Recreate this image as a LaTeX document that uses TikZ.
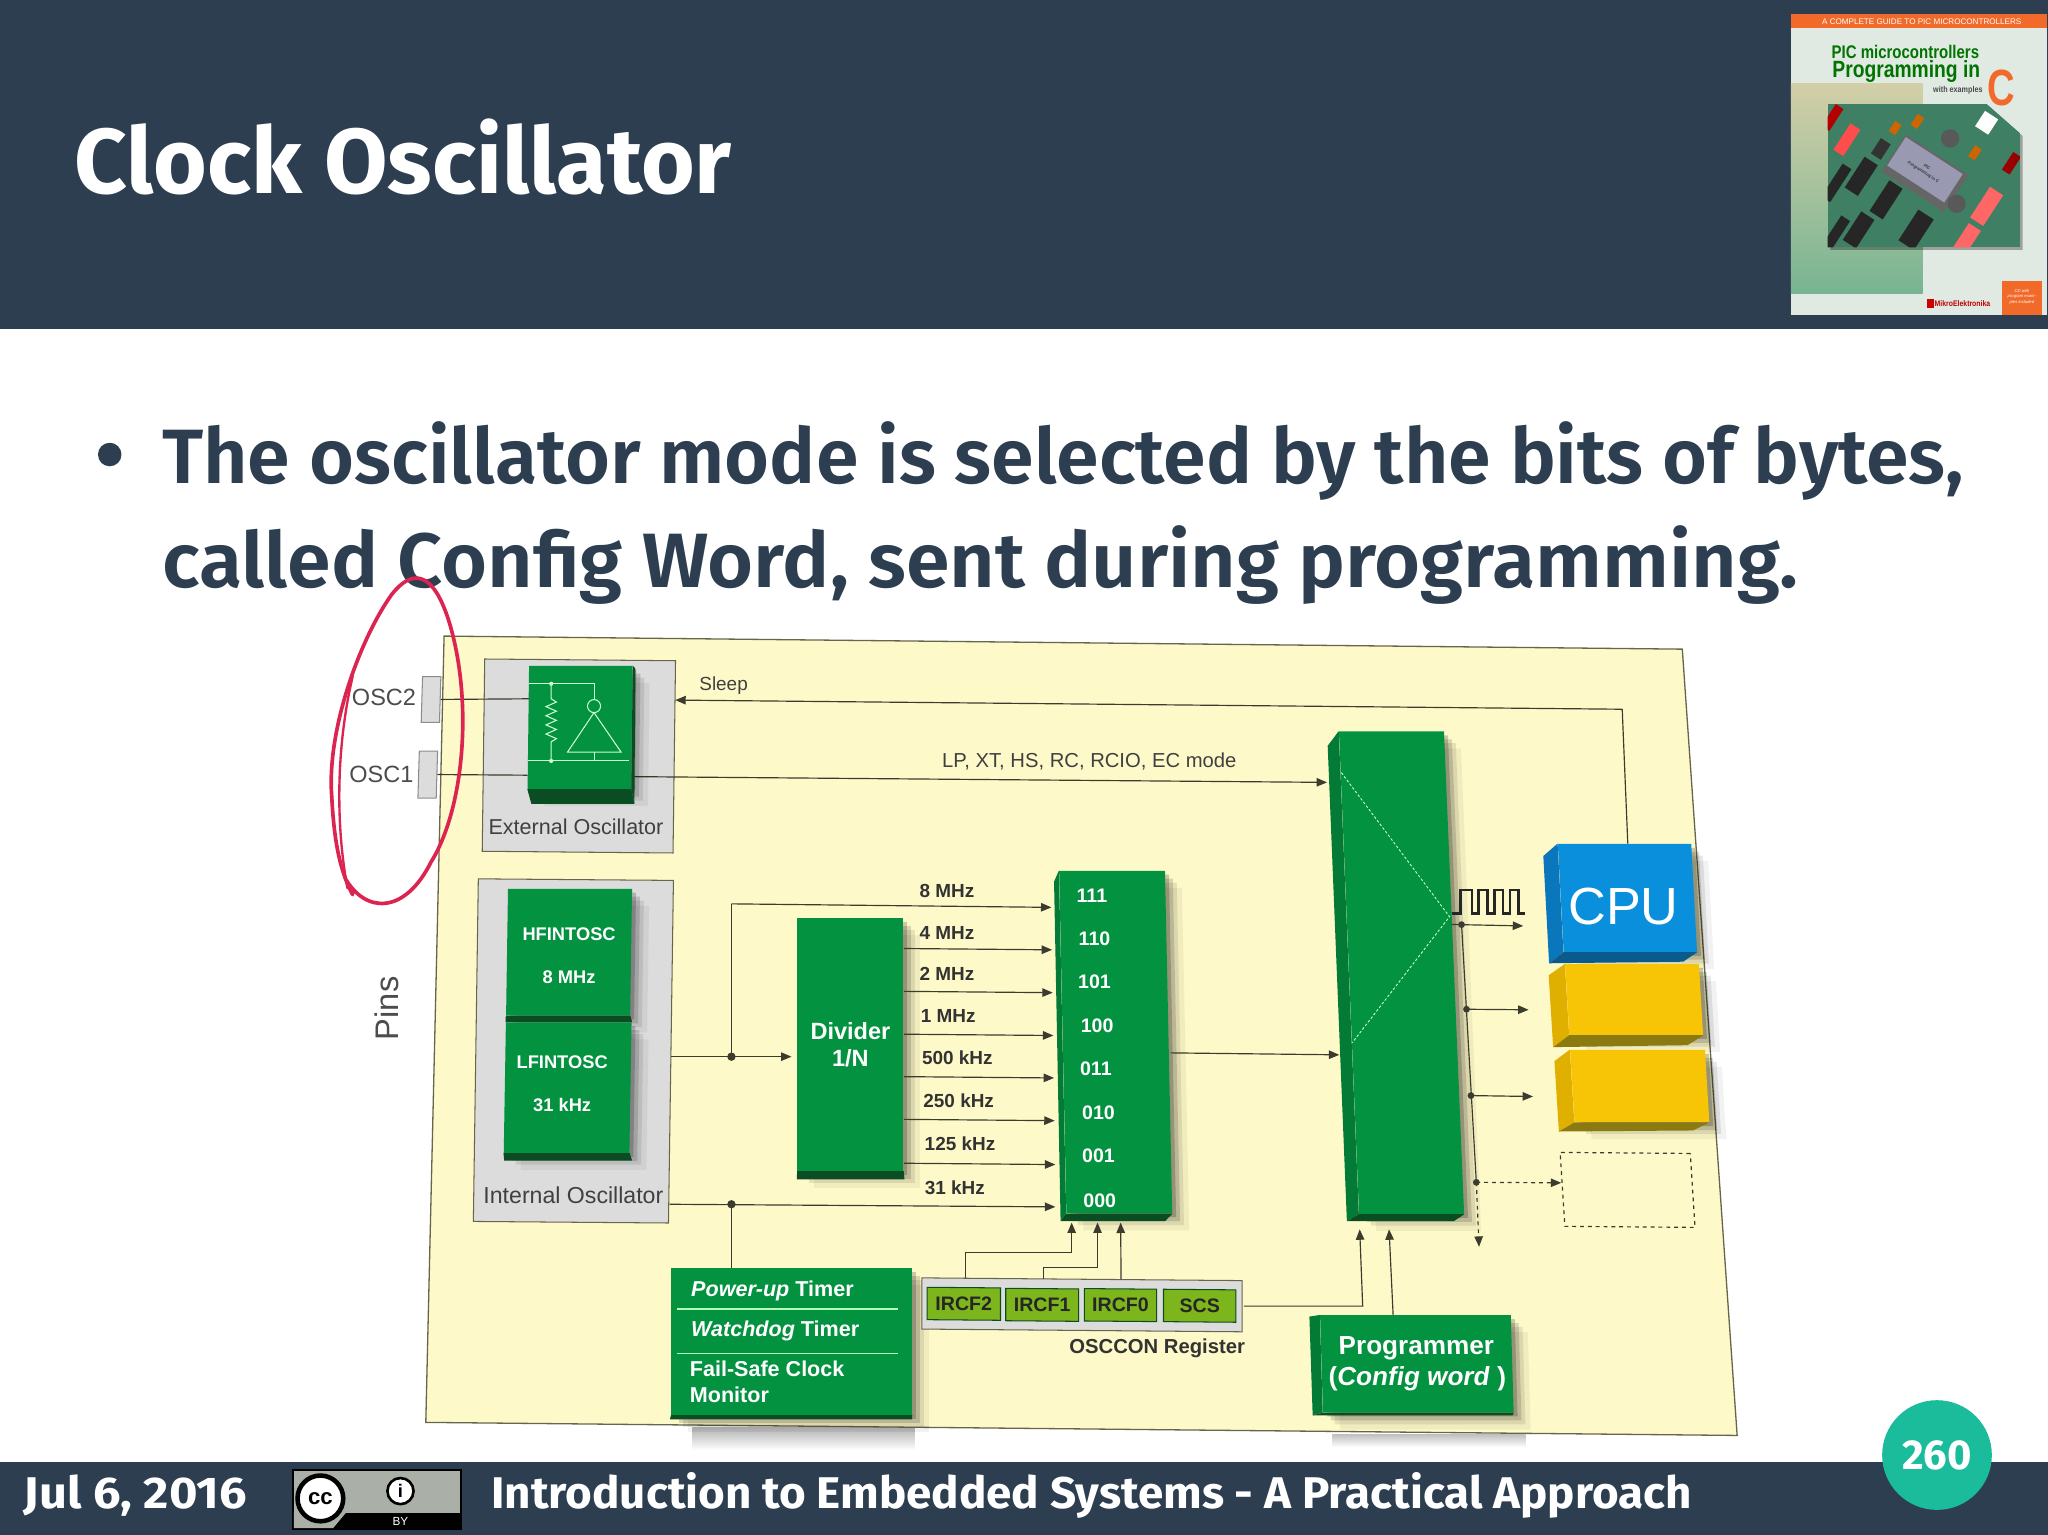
\documentclass[tikz,border=0pt]{standalone}
\usepackage{fontspec}
\setmainfont{Fira Sans}
\newfontfamily\semib{Fira Sans SemiBold}
\newfontfamily\diag{Liberation Sans}
\usetikzlibrary{arrows.meta,shadows}
\definecolor{navy}{HTML}{2C3E50}
\definecolor{tealc}{HTML}{1ABC9C}
\definecolor{panelc}{HTML}{FEF9C9}
\definecolor{panelb}{HTML}{66664C}
\definecolor{greybox}{HTML}{DCDCDC}
\definecolor{boxgreen}{HTML}{03923F}
\definecolor{sidegreen}{HTML}{037A35}
\definecolor{lowgreen}{HTML}{0B4D22}
\definecolor{cellgreen}{HTML}{7DB61C}
\definecolor{cpublue}{HTML}{0A8FDC}
\definecolor{cpuside}{HTML}{0A76BC}
\definecolor{cpulow}{HTML}{0A5A8C}
\definecolor{yelbox}{HTML}{F7C505}
\definecolor{yelside}{HTML}{E0B000}
\definecolor{yellow low}{HTML}{8A7A10}
\definecolor{linec}{HTML}{3B3B2E}
\definecolor{redpen}{HTML}{DC2451}
\definecolor{bookor}{HTML}{F26A2A}
\definecolor{bookbg}{HTML}{E0E9E2}
\definecolor{booktan}{HTML}{D3CFA8}
\definecolor{bookleaf}{HTML}{78B492}
\definecolor{bookpcb}{HTML}{3F7F63}
\definecolor{badgegrey}{HTML}{AAB0A8}
\tikzset{
softshadow/.style={
general shadow={shadow xshift=3pt,shadow yshift=-3pt,fill=black,opacity=.2},
general shadow={shadow xshift=6pt,shadow yshift=-6pt,fill=black,opacity=.14},
general shadow={shadow xshift=9pt,shadow yshift=-9pt,fill=black,opacity=.09},
general shadow={shadow xshift=13pt,shadow yshift=-13pt,fill=black,opacity=.05}},
gbox/.style={fill=boxgreen,inner sep=0pt,text=white,align=center,softshadow},
greyb/.style={fill=greybox,draw=panelb,line width=.8pt,inner sep=0pt},
ybox/.style={fill=yelbox,inner sep=0pt,softshadow},
cell/.style={fill=cellgreen,draw=lowgreen,line width=.8pt,inner sep=0pt,minimum height=24.8pt,yslant=-.0085,font=\diag\bfseries\fontsize{15}{18}\selectfont,text=black!85},
conn/.style={draw=linec,line width=.9pt},
flow/.style={conn,-{Stealth[length=8pt,width=6.5pt,inset=0pt]}},
txt/.style={inner sep=0pt,text=black!75,font=\diag\fontsize{17}{20}\selectfont},
rate/.style={inner sep=0pt,text=black!80,font=\diag\bfseries\fontsize{14.5}{17}\selectfont},
code/.style={inner sep=0pt,text=white,font=\diag\bfseries\fontsize{15}{18}\selectfont},
foot/.style={inner sep=0pt,anchor=base west,text=white,font=\bfseries\fontsize{34}{36}\selectfont},
bodyline/.style={inner sep=0pt,anchor=base west,text=navy,font=\semib\fontsize{59}{62}\selectfont}
}
\newcommand{\pcbpart}[5]{\fill[#5,rotate around={-33:(#1,#2)}] (#1-#3/2,#2-#4/2) rectangle (#1+#3/2,#2+#4/2);}
\begin{document}
\begin{tikzpicture}[x=1pt,y=-1pt]
\useasboundingbox (0,0) rectangle (1568,1175.2);
\fill[white] (0,0) rectangle (1568,1175.2);
% slide bands
\fill[navy] (0,0) rectangle (1568,252);
\fill[navy] (0,1119) rectangle (1568,1175.2);
\node[inner sep=0pt,anchor=base west,text=white,font=\bfseries\fontsize{70.5}{74}\selectfont] (slidetitle) at (57,148) {Clock Oscillator};
\fill[navy] (84,348) circle(9pt);
\node[bodyline] (lineone) at (124,370) {The oscillator mode is selected by the bits of bytes,};
\node[bodyline,xscale=1.024] (linetwo) at (124,450) {called Config Word, sent during programming.};
% book cover
\fill[bookbg] (1371.2,10.7) rectangle (1567,241.2);
\shade[top color=booktan,bottom color=bookleaf] (1371.2,63.8) rectangle (1472,224.6);
\fill[bookor] (1371.2,10.7) rectangle (1567,21.7);
\node[inner sep=0pt,text=white,font=\diag\fontsize{6.2}{7}\selectfont] (bookhead) at (1471.3,17) {A COMPLETE GUIDE TO PIC MICROCONTROLLERS};
\node[inner sep=0pt,xscale=.82,text=green!45!black,font=\diag\bfseries\fontsize{14}{16}\selectfont] (booka) at (1458.8,39.6) {PIC microcontrollers};
\node[inner sep=0pt,xscale=.82,text=green!45!black,font=\diag\bfseries\fontsize{18}{20}\selectfont] (bookb) at (1459.5,55) {Programming in};
\node[inner sep=0pt,xscale=.85,text=black!70,font=\diag\bfseries\fontsize{6.5}{8}\selectfont] (bookc) at (1499,69.4) {with examples};
\node[inner sep=0pt,xscale=.75,text=bookor,font=\diag\bfseries\fontsize{39}{40}\selectfont] (bookd) at (1532.5,67) {C};
\fill[black,opacity=.3] (1401.3,82) -- (1523,82) -- (1548.5,104) -- (1548.5,191.4) -- (1401.3,191.4) -- cycle;
\begin{scope}
\clip (1399.3,79.6) -- (1521,79.6) -- (1546.5,102) -- (1546.5,189.4) -- (1399.3,189.4) -- cycle;
\fill[bookpcb] (1399.3,79.6) rectangle (1546.5,189.4);
\pcbpart{1414}{107}{9}{24}{red!70!white}
\pcbpart{1403}{90}{7}{20}{red!70!black}
\pcbpart{1425}{135}{12}{28}{black!85}
\pcbpart{1444}{153}{12}{28}{black!85}
\pcbpart{1467}{176}{14}{28}{black!85}
\pcbpart{1423}{176}{12}{26}{black!85}
\pcbpart{1406}{140}{8}{30}{black!85}
\pcbpart{1406}{178}{8}{26}{black!85}
\pcbpart{1440}{114}{9}{14}{black!80}
\pcbpart{1521}{158}{12}{28}{red!60!white}
\pcbpart{1506}{183}{11}{22}{red!60!white}
\pcbpart{1521}{94}{12}{14}{white}
\pcbpart{1468}{93}{6}{10}{orange!80!black}
\pcbpart{1451}{98}{6}{9}{orange!80!black}
\pcbpart{1512}{117}{6}{10}{orange!80!black}
\pcbpart{1540}{125}{7}{16}{red!60!black}
\pcbpart{1473.8}{132.7}{57}{34}{black!60}
\pcbpart{1473.8}{130}{52}{26}{blue!25!black!40!white}
\fill[black!65] (1493,106) circle(7pt);
\fill[black!65] (1498,156) circle(7pt);
\end{scope}
\node[inner sep=0pt,rotate=-33,align=center,text=black!80,font=\diag\bfseries\fontsize{3.2}{5}\selectfont] (booklcd) at (1473.8,130) {PIC\\Programming in C};
\fill[red!80!black] (1475,228.8) rectangle (1481,236);
\node[inner sep=0pt,xscale=.85,text=red!75!black,font=\diag\bfseries\fontsize{6.2}{7}\selectfont] (booklogo) at (1502.5,232.4) {MikroElektronika};
\fill[bookor] (1532.5,214.9) rectangle (1563.6,241.2);
\node[inner sep=0pt,align=center,text=white,font=\diag\itshape\fontsize{3.2}{4.2}\selectfont] (bookcd) at (1548,227) {CD with\\program exam-\\ples included};
% diagram sheet
\shade[top color=black!30,bottom color=white] (530,1093) rectangle (700,1110);
\shade[top color=black!25,bottom color=white] (1020,1098) rectangle (1168,1108);
\draw[fill=panelc,draw=panelb,line width=1pt] (340,487) -- (1288,497) -- (1330,1099) -- (326,1089) -- cycle;
% pins
\node[fill=greybox,draw=black!45,line width=.8pt,inner sep=0pt,minimum width=14pt,minimum height=35pt,xslant=.03] (pintwo) at (330,535.5) {};
\node[fill=greybox,draw=black!45,line width=.8pt,inner sep=0pt,minimum width=14pt,minimum height=36pt,xslant=.03] (pinone) at (327.5,593) {};
\node[txt,text=black!70,font=\diag\fontsize{18}{20}\selectfont] (oscb) at (294,534) {OSC2};
\node[txt,text=black!70,font=\diag\fontsize{18}{20}\selectfont] (osca) at (292,593) {OSC1};
\node[txt,rotate=90,text=black!70,font=\diag\fontsize{25}{28}\selectfont] (pinslbl) at (296,772) {Pins};
% oscillator groups
\node[greyb,minimum width=146.1pt,minimum height=147.2pt,xslant=.0129,yslant=-.009] (extbox) at (443.2,578.8) {};
\node[greyb,minimum width=149.4pt,minimum height=262.3pt,xslant=.0145,yslant=-.008] (intbox) at (439,804.6) {};
\node[txt,font=\diag\fontsize{16.5}{20}\selectfont] (extlbl) at (441,633) {External Oscillator};
\node[txt,font=\diag\fontsize{17.7}{20}\selectfont] (intlbl) at (439,915) {Internal Oscillator};
% connectors
\coordinate (sleepcorner) at (1242,543);
\coordinate (sleepend) at (517,536);
\coordinate (muxmode) at (1016,599);
\coordinate (extleftb) at (405,535);
\coordinate (extlefta) at (404,593.5);
\coordinate (extright) at (484.5,594.6);
\coordinate (intout) at (514,809);
\coordinate (divin) at (606,809);
\coordinate (splita) at (560,809);
\coordinate (splitcorner) at (560,692);
\coordinate (regeight) at (805,694.7);
\coordinate (intlow) at (512.6,922);
\coordinate (splitb) at (560,922);
\coordinate (regthirtyone) at (808,924);
\draw[flow] (intout) -- (divin);
\draw[conn] (splita) -- (splitcorner);
\draw[flow] (splitcorner) -- (regeight);
\draw[flow] (intlow) -- (regthirtyone);
\draw[conn] (splitb) -- (560,971);
\draw[conn] (pintwo.east) -- (extleftb);
\draw[conn] (pinone.east) -- (extlefta);
\draw[flow] (extright) -- (muxmode);
\fill[linec] (splita) circle(3.2pt);
\fill[linec] (splitb) circle(3.2pt);
\node[txt,font=\diag\fontsize{14.5}{17}\selectfont] (sleeplbl) at (554,525) {Sleep};
\node[txt,font=\diag\fontsize{15.5}{18}\selectfont] (modelbl) at (834,583) {LP, XT, HS, RC, RCIO, EC mode};
% external oscillator
\node[gbox,minimum width=79.2pt,minimum height=94.2pt,xslant=.012] (extosc) at (444.1,556.9) {};
\fill[lowgreen] (extosc.south west) -- (406.8,615.4) -- (485.7,615.4) -- (extosc.south east) -- cycle;
\fill[lowgreen] (extosc.north east) -- (486.5,512) -- (485.7,615.4) -- (extosc.south east) -- cycle;
\draw[white!80!green,line width=.8pt] (405,523.5) -- (455.2,523.5) -- (455.2,535.5);
\draw[white!80!green,line width=.8pt] (454.8,540.6) circle(5pt);
\draw[white!80!green,line width=.8pt] (454.8,545.6) -- (434.5,575.8) -- (475.5,575.8) -- cycle;
\draw[white!80!green,line width=.8pt] (454.8,575.8) -- (454.8,582.6);
\draw[white!80!green,line width=.8pt] (404,582.6) -- (481.8,582.6);
\draw[white!80!green,line width=.8pt] (422,523.5) -- (422,535) -- (426,537.5) -- (418,541) -- (426,544.5) -- (418,548) -- (426,551.5) -- (418,555) -- (426,558.5) -- (418,562) -- (426,565.5) -- (422,568) -- (422,582.6);
\fill[white!80!green] (422,523.5) circle(1.6pt);
\fill[white!80!green] (422,582.6) circle(1.6pt);
% internal oscillator
\node[gbox,minimum width=95pt,minimum height=97pt,xslant=.015] (hfosc) at (435.7,729) {};
\node[inner sep=0pt,align=center,text=white,font=\diag\bfseries\fontsize{14}{32.8}\selectfont] (hfoscin) at (435.7,732) {HFINTOSC\\8 MHz};
\node[gbox,minimum width=96.2pt,minimum height=100pt,xslant=.0165] (lfosc) at (434.6,832.7) {};
\node[inner sep=0pt,align=center,text=white,font=\diag\bfseries\fontsize{14}{32.8}\selectfont] (lfoscin) at (430.4,829.5) {LFINTOSC\\31 kHz};
\fill[lowgreen] (hfosc.south west) -- (387,782.6) -- (484,782.6) -- (hfosc.south east) -- cycle;
\fill[lowgreen] (lfosc.south west) -- (386,888.5) -- (484,888.5) -- (lfosc.south east) -- cycle;
% divider
\node[gbox,minimum width=81.2pt,minimum height=193.4pt,font=\diag\bfseries\fontsize{18}{21}\selectfont] (divider) at (651.1,799.7) {Divider\\1/N};
\fill[lowgreen] (divider.south west) -- (610,903) -- (692.5,903) -- (divider.south east) -- cycle;
\coordinate (outb) at (692,726.2);
\coordinate (outc) at (692,759);
\coordinate (outd) at (692,791.8);
\coordinate (oute) at (692,824.3);
\coordinate (outf) at (692,857);
\coordinate (outg) at (692,890.6);
\coordinate (regb) at (805.5,727.2);
\coordinate (regc) at (806,760);
\coordinate (regd) at (806.5,792.8);
\coordinate (rege) at (807,825.3);
\coordinate (regf) at (807.5,858);
\coordinate (regg) at (808,891.6);
\draw[flow] (outb) -- (regb);
\draw[flow] (outc) -- (regc);
\draw[flow] (outd) -- (regd);
\draw[flow] (oute) -- (rege);
\draw[flow] (outf) -- (regf);
\draw[flow] (outg) -- (regg);
\node[rate] (rateeight) at (725,682) {8 MHz};
\node[rate] (ratefour) at (725,714) {4 MHz};
\node[rate] (ratetwo) at (725,746) {2 MHz};
\node[rate] (rateone) at (726,778) {1 MHz};
\node[rate] (ratefive) at (733,810) {500 kHz};
\node[rate] (ratequarter) at (734,843) {250 kHz};
\node[rate] (rateeighth) at (735,876) {125 kHz};
\node[rate] (ratelow) at (731,909) {31 kHz};
% selector
\node[gbox,minimum width=81pt,minimum height=262.2pt,xslant=-.0212] (selector) at (854.2,797.8) {};
\fill[sidegreen] (selector.north west) -- (807,675) -- (812,935) -- (selector.south west) -- cycle;
\fill[lowgreen] (selector.south west) -- (812,935) -- (892,935) -- (selector.south east) -- cycle;
\node[code] (sela) at (836,686) {111};
\node[code] (selb) at (838,719) {110};
\node[code] (selc) at (838,752) {101};
\node[code] (seld) at (840,785) {100};
\node[code] (sele) at (839,818) {011};
\node[code] (self) at (841,852) {010};
\node[code] (selg) at (841,885) {001};
\node[code] (selh) at (842,919) {000};
% clock mux
\node[gbox,minimum width=80.4pt,minimum height=369.4pt,xslant=-.0417] (clockmux) at (1073.05,744.7) {};
\fill[sidegreen] (clockmux.north west) -- (1016.5,571) -- (1031.2,935) -- (clockmux.south west) -- cycle;
\fill[lowgreen] (clockmux.south west) -- (1031.2,935) -- (1113,935) -- (clockmux.south east) -- cycle;
\draw[white!75!green,line width=.7pt,dash pattern=on 2pt off 1.5pt] (1027,591.6) -- (1109.8,701.8) -- (1035.3,798.3);
\coordinate (selout) at (896.2,806.1);
\coordinate (muxin) at (1025.4,807.6);
\draw[flow] (selout) -- (muxin);
% clock outputs
\coordinate (muxout) at (1111.5,707.8);
\coordinate (taplow) at (1130.3,905.2);
\coordinate (tapa) at (1119,707.9);
\coordinate (tapb) at (1122.8,772.7);
\coordinate (tapc) at (1126.2,838.8);
\coordinate (enda) at (1166.2,708.9);
\coordinate (endb) at (1170.3,773.1);
\coordinate (endc) at (1173.7,839.5);
\coordinate (endd) at (1195.3,905.6);
\coordinate (ende) at (1132.4,954.6);
\draw[flow] (muxout) -- (enda);
\draw[conn] (tapa) -- (taplow);
\draw[flow] (tapb) -- (endb);
\draw[flow] (tapc) -- (endc);
\draw[flow,dashed] (taplow) -- (endd);
\draw[flow,dashed] (taplow) -- (ende);
\fill[linec] (tapa) circle(2.6pt);
\fill[linec] (tapb) circle(2.6pt);
\fill[linec] (tapc) circle(2.6pt);
\fill[linec] (taplow) circle(2.6pt);
\draw[black!85,line width=2pt] (1111.5,699.2) -- (1118.4,699.2) -- (1118.4,681.4) -- (1127,681.4) -- (1127,699.2) -- (1132,699.2) -- (1132,681.4) -- (1138.9,681.4) -- (1138.9,699.2) -- (1144,699.2) -- (1144,681.4) -- (1150.8,681.4) -- (1150.8,699.2) -- (1156,699.2) -- (1156,681.4) -- (1162.8,681.4) -- (1162.8,699.2) -- (1167.9,699.2);
% cpu and peripherals
\node[fill=cpublue,inner sep=0pt,minimum width=102.1pt,minimum height=82.7pt,xslant=-.0538,softshadow] (cpu) at (1246,687.4) {};
\fill[cpuside] (cpu.north west) -- (1181.6,655.4) -- (1186,737.5) -- (cpu.south west) -- cycle;
\fill[cpulow] (cpu.south west) -- (1186,737.5) -- (1288.6,736.3) -- (cpu.south east) -- cycle;
\node[inner sep=0pt,text=white,font=\diag\fontsize{40}{44}\selectfont] (cpulbl) at (1243,694) {CPU};
\node[ybox,minimum width=102.4pt,minimum height=54.2pt,xslant=-.06] (perone) at (1251.1,765.3) {};
\fill[yelside] (perone.north west) -- (1185.7,746.7) -- (1189.1,801.7) -- (perone.south west) -- cycle;
\fill[yellow low] (perone.south west) -- (1189.1,801.7) -- (1292,800.2) -- (perone.south east) -- cycle;
\node[ybox,minimum width=103.2pt,minimum height=55.3pt,xslant=-.0615] (pertwo) at (1255.4,831.5) {};
\fill[yelside] (pertwo.north west) -- (1190.1,812.4) -- (1193.5,866.3) -- (pertwo.south west) -- cycle;
\fill[yellow low] (pertwo.south west) -- (1193.5,866.3) -- (1296.1,865.5) -- (pertwo.south east) -- cycle;
\node[draw=linec,dashed,line width=.9pt,inner sep=0pt,minimum width=99.6pt,minimum height=56.6pt,xslant=-.064,yslant=-.008] (perdash) at (1246.1,911) {};
\draw[conn] (cpu.north) ++(2.5,0) -- (sleepcorner);
\draw[flow] (sleepcorner) -- (sleepend);
% timers
\node[gbox,minimum width=184.3pt,minimum height=112.5pt] (timers) at (606.1,1027) {};
\fill[lowgreen] (timers.south west) -- (512.9,1086.6) -- (698.3,1086.6) -- (timers.south east) -- cycle;
\draw[white!70!green,line width=1pt] (518.6,1002.2) -- (687.8,1002.2);
\draw[white!70!green,line width=1pt] (518.6,1036.1) -- (687.8,1036.1);
\node[inner sep=0pt,anchor=west,text=white,font=\diag\bfseries\fontsize{16.5}{19}\selectfont] (timera) at (529,988) {\textit{Power-up} Timer};
\node[inner sep=0pt,anchor=west,text=white,font=\diag\bfseries\fontsize{16.5}{19}\selectfont] (timerb) at (529,1019) {\textit{Watchdog} Timer};
\node[inner sep=0pt,anchor=west,text=white,font=\diag\bfseries\fontsize{16.5}{19}\selectfont] (timerc) at (528,1048) {Fail-Safe Clock};
\node[inner sep=0pt,anchor=west,text=white,font=\diag\bfseries\fontsize{16.5}{19}\selectfont] (timerd) at (528,1068) {Monitor};
% osccon
\node[greyb,minimum width=245.3pt,minimum height=39.2pt,yslant=-.0085] (osccon) at (828.4,999) {};
\node[cell,minimum width=56.2pt] (ircftwo) at (737.9,998.2) {IRCF2};
\node[cell,minimum width=55.8pt] (ircfone) at (797.9,999) {IRCF1};
\node[cell,minimum width=55.4pt] (ircfzero) at (857.9,999.2) {IRCF0};
\node[cell,minimum width=55.4pt] (scsbit) at (918.5,999.7) {SCS};
\node[inner sep=0pt,text=black!80,font=\diag\bfseries\fontsize{15.5}{18}\selectfont] (oscconlbl) at (886,1032) {OSCCON Register};
\coordinate (regirta) at (739,978.4);
\coordinate (regirtb) at (799,979);
\coordinate (regirtc) at (858.3,979.4);
\coordinate (seltipa) at (820.5,936);
\coordinate (seltipb) at (840.3,936);
\coordinate (seltipc) at (858,936);
\draw[flow] (regirta) -- (739,958.8) -- (820.5,958.8) -- (seltipa);
\draw[flow] (regirtb) -- (799,970.5) -- (840.3,970.5) -- (seltipb);
\draw[flow] (regirtc) -- (seltipc);
% programmer
\node[gbox,minimum width=146pt,minimum height=74.5pt,xslant=-.0295,font=\diag\bfseries\fontsize{20}{24}\selectfont] (programmer) at (1084.8,1044.2) {Programmer\\(\textit{Config word} )};
\fill[sidegreen] (programmer.north west) -- (1002.5,1008) -- (1005,1083.6) -- (programmer.south west) -- cycle;
\fill[lowgreen] (programmer.south west) -- (1005,1083.6) -- (1158,1083.6) -- (programmer.south east) -- cycle;
\coordinate (muxtipa) at (1041,941.2);
\coordinate (muxtipb) at (1063.5,941.2);
\coordinate (scsout) at (952.4,1000);
\coordinate (progtop) at (1066.6,1006.8);
\draw[flow] (scsout) -- (1043.3,1000) -- (muxtipa);
\draw[flow] (progtop) -- (muxtipb);
% red pen
\draw[redpen,line width=2.8pt,line cap=round] (264,672) .. controls (280,700) and (310,700) .. (330,660) .. controls (355,620) and (362,540) .. (345,480) .. controls (335,445) and (320,430) .. (300,455) .. controls (275,490) and (250,560) .. (254,610) .. controls (256,650) and (262,670) .. (270,685);
\draw[redpen,line width=1.8pt,line cap=round] (270,518) .. controls (260,560) and (255,620) .. (266,680);
% footer
\node[foot,xscale=1.1] (footdate) at (18,1155) {Jul 6, 2016};
\node[foot,xscale=1.03] (foottitle) at (376,1155) {Introduction to Embedded Systems - A Practical Approach};
\fill[black] (223.4,1125) rectangle (354,1171.5);
\fill[badgegrey] (225,1126.5) rectangle (352.5,1158);
\fill[badgegrey] (225,1158) -- (265,1158) -- (255,1170) -- (225,1170) -- cycle;
\node[circle,fill=white,draw=black,line width=3.5pt,inner sep=0pt,minimum size=35pt,text=black,font=\diag\bfseries\fontsize{17}{18}\selectfont] (ccmark) at (245.3,1147.2) {cc};
\node[circle,fill=white,draw=black,line width=2pt,inner sep=0pt,minimum size=20pt,text=black,font=\diag\bfseries\fontsize{14}{15}\selectfont] (bymark) at (306.6,1141.6) {i};
\node[inner sep=0pt,text=white,font=\diag\fontsize{9}{10}\selectfont] (bylbl) at (306.6,1164.5) {BY};
\node[circle,fill=tealc,inner sep=0pt,minimum size=84pt,text=white,font=\bfseries\fontsize{32}{34}\selectfont] (pagemark) at (1483,1114) {260};
\end{tikzpicture}
\end{document}
